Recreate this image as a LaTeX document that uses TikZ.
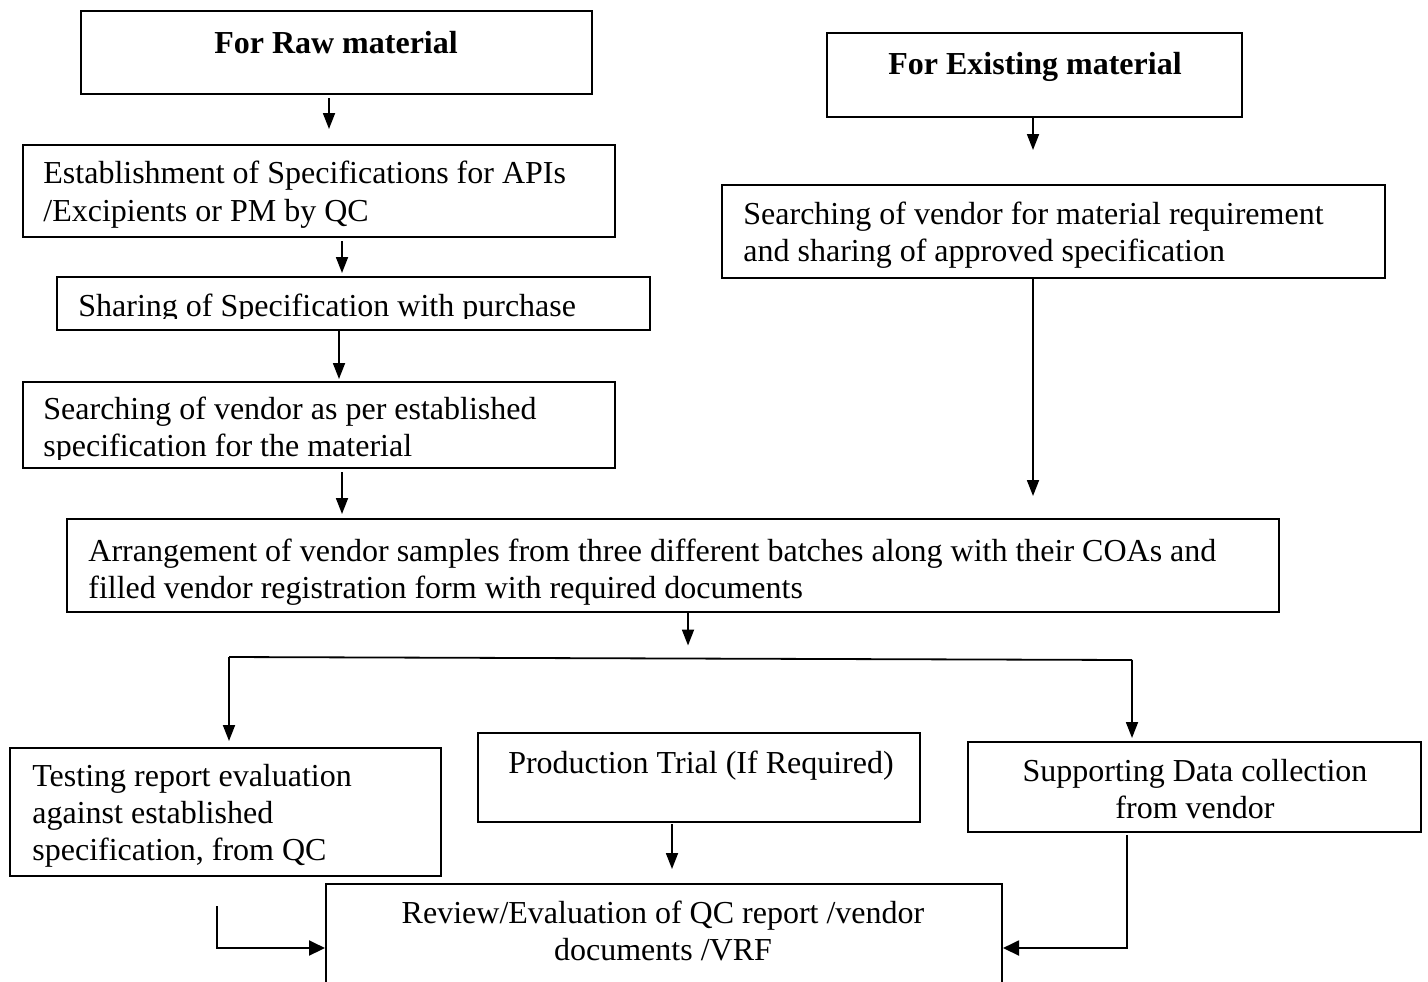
\documentclass[tikz,border=0pt]{standalone}
\usepackage{fontspec}
\setmainfont{Liberation Serif}
\usetikzlibrary{arrows.meta,fit,calc}
\begin{document}
\begin{tikzpicture}[x=0.5pt,y=-0.5pt,
  box/.style={draw, line width=1pt, inner sep=0pt},
  txt/.style={inner sep=0pt, font=\fontsize{16}{18.5}\selectfont},
  btxt/.style={inner sep=0pt, font=\fontsize{16}{18.5}\selectfont\bfseries},
  arr/.style={line width=0.9pt, -{Triangle[length=8pt,width=6pt]}},
  arrbig/.style={line width=1pt, -{Triangle[length=8pt,width=7.5pt]}},
  ln/.style={line width=0.9pt}]
\clip (0,0) rectangle (1428,981);
\fill[white] (0,0) rectangle (1428,981);

% boxes
\node[box, fit={(81,11) (592,94)}] (b1) {};
\node[box, fit={(23,145) (615,237)}] (b2) {};
\node[box, fit={(57,277) (650,330)}] (b3) {};
\node[box, fit={(23,382) (615,468)}] (b4) {};
\node[box, fit={(827,33) (1242,117)}] (b5) {};
\node[box, fit={(722,185) (1385,278)}] (b6) {};
\node[box, fit={(67,519) (1279,612)}] (b7) {};
\node[box, fit={(10,748) (441,876)}] (b8) {};
\node[box, fit={(478,733) (920,822)}] (b9) {};
\node[box, fit={(968,742) (1421,832)}] (b10) {};
\node[box, fit={(326,884) (1002,1012)}] (b11) {};

% texts
\node[btxt, anchor=base] (t1) at (336,53) {For Raw material};
\node[txt, anchor=base west] (t2a) at (43,183) {Establishment of Specifications for APIs};
\node[txt, anchor=base west] (t2b) at (43,221) {/Excipients or PM by QC};
\begin{scope}
  \clip (57,277) rectangle (650,318);
  \node[txt, anchor=base west] (t3) at (78,316) {Sharing of Specification with purchase};
\end{scope}
\node[txt, anchor=base west] (t4a) at (43,419) {Searching of vendor as per established};
\begin{scope}
  \clip (23,382) rectangle (615,459);
  \node[txt, anchor=base west] (t4b) at (43,456) {specification for the material};
\end{scope}
\node[btxt, anchor=base] (t5) at (1035,74) {For Existing material};
\node[txt, anchor=base west] (t6a) at (743,224) {Searching of vendor for material requirement};
\node[txt, anchor=base west] (t6b) at (743,261) {and sharing of approved specification};
\node[txt, anchor=base west] (t7a) at (88,561) {Arrangement of vendor samples from three different batches along with their COAs and};
\node[txt, anchor=base west] (t7b) at (88,598) {filled vendor registration form with required documents};
\node[txt, anchor=base west] (t8a) at (32,786) {Testing report evaluation};
\node[txt, anchor=base west] (t8b) at (32,823) {against established};
\node[txt, anchor=base west] (t8c) at (32,860) {specification, from QC};
\node[txt, anchor=base] (t9) at (701,773) {Production Trial (If Required)};
\node[txt, anchor=base] (t10a) at (1195,781) {Supporting Data collection};
\node[txt, anchor=base] (t10b) at (1195,818) {from vendor};
\node[txt, anchor=base] (t11a) at (663,923) {Review/Evaluation of QC report /vendor};
\node[txt, anchor=base] (t11b) at (663,960) {documents /VRF};

% connector columns
\coordinate (c1) at (329,0);
\coordinate (c2) at (342,0);
\coordinate (c3) at (339,0);
\coordinate (c4) at (342,0);
\coordinate (c5) at (1033,0);
\coordinate (c7) at (688,0);
\coordinate (c9) at (672,0);
\coordinate (l1) at (217,0);
\coordinate (r1) at (1127,0);
\coordinate (sL) at (229,657);
\coordinate (sR) at (1132,660);
\coordinate (sM) at (688,658.5);

% connectors
\draw[arr, shorten <=1.5pt, shorten >=7.5pt] (b1.south -| c1) -- (b2.north -| c1);
\draw[arr, shorten <=1.5pt, shorten >=1.5pt] (b2.south -| c2) -- (b3.north -| c2);
\draw[arr, shorten >=1pt] (b3.south -| c3) -- (b4.north -| c3);
\draw[arr, shorten <=1.5pt, shorten >=2pt] (b4.south -| c4) -- (b7.north -| c4);
\draw[arr, shorten >=17pt] (b5.south -| c5) -- (b6.north -| c5);
\draw[arr, shorten >=11pt] (b6.south -| c5) -- (b7.north -| c5);
\draw[arr, shorten >=6.5pt] (b7.south -| c7) -- (sM);
\draw[ln] (sL) -- (sR);
\draw[arr, shorten >=3pt] (sL) -- (b8.north -| sL);
\draw[arr, shorten >=1.5pt] (sR) -- (b10.north -| sR);
\draw[arr, shorten <=0.5pt, shorten >=7pt] (b9.south -| c9) -- (b11.north -| c9);
\draw[arrbig, shorten <=14.5pt] (b8.south -| l1) |- (b11.west);
\draw[arrbig, shorten <=1pt] (b10.south -| r1) |- (b11.east);
\end{tikzpicture}
\end{document}
